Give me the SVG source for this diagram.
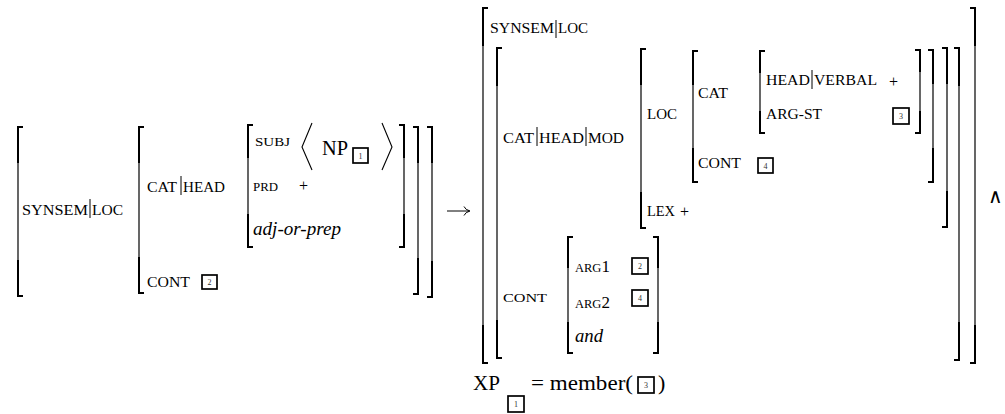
<svg xmlns="http://www.w3.org/2000/svg" width="1005" height="414" viewBox="0 0 1005 414">
<style>
text{font-family:"Liberation Serif","Times New Roman","DejaVu Serif",serif;fill:#000}
.sc{font-size:14px}
.ss{font-size:12.5px}
.it{font-style:italic;font-size:19px}
.tg{font-size:8px;fill:#333;text-anchor:middle}
.thin{stroke:#000;stroke-width:1.2;fill:none}
.thick{stroke:#000;stroke-width:2;fill:none}
.bar{stroke:#000;stroke-width:1;fill:none}
.box{stroke:#000;stroke-width:1.7;fill:#fff}
.ang{stroke:#000;stroke-width:1.1;fill:none}
</style>
<rect width="1005" height="414" fill="#fff"/>

<g id="brackets">
<!-- left AVM -->
<path class="thin" d="M18 127V296"/><path class="thick" d="M23 127H18V163M18 260V296H23"/>
<path class="thin" d="M139 127V293"/><path class="thick" d="M144 127H139V163M139 257V293H144"/>
<path class="thin" d="M248 125V247"/><path class="thick" d="M253 125H248V158M248 214V247H253"/>
<path class="thin" d="M404 125V247"/><path class="thick" d="M399 125H404V158M404 214V247H399"/>
<path class="thin" d="M418 127V294"/><path class="thick" d="M413 127H418V163M418 258V294H413"/>
<path class="thin" d="M432 127V297"/><path class="thick" d="M427 127H432V163M432 261V297H427"/>
<!-- right AVM -->
<path class="thin" d="M483 8V363"/><path class="thick" d="M488 8H483V46M483 325V363H488"/>
<path class="thin" d="M497 48V358"/><path class="thick" d="M502 48H497V86M497 320V358H502"/>
<path class="thin" d="M641 49V228"/><path class="thick" d="M646 49H641V85M641 192V228H646"/>
<path class="thin" d="M693 51V182"/><path class="thick" d="M698 51H693V85M693 148V182H698"/>
<path class="thin" d="M760 51V133"/><path class="thick" d="M765 51H760V73M760 111V133H765"/>
<path class="thin" d="M920 50V133"/><path class="thick" d="M915 50H920V72M920 111V133H915"/>
<path class="thin" d="M933 50V182"/><path class="thick" d="M928 50H933V84M933 148V182H928"/>
<path class="thin" d="M947 48V227"/><path class="thick" d="M942 48H947V84M947 191V227H942"/>
<path class="thin" d="M959 48V360"/><path class="thick" d="M954 48H959V86M959 322V360H954"/>
<path class="thin" d="M975 8V363"/><path class="thick" d="M970 8H975V46M975 325V363H970"/>
<path class="thin" d="M568 237V353"/><path class="thick" d="M573 237H568V268M568 322V353H573"/>
<path class="thin" d="M658 237V353"/><path class="thick" d="M653 237H658V268M658 322V353H653"/>
</g>

<g id="left-avm">
<text class="sc" x="22" y="215" textLength="66" lengthAdjust="spacingAndGlyphs">SYNSEM</text>
<path class="bar" d="M90 199V218"/>
<text class="sc" x="92" y="215" textLength="31" lengthAdjust="spacingAndGlyphs">LOC</text>

<text class="sc" x="147" y="192" textLength="30" lengthAdjust="spacingAndGlyphs">CAT</text>
<path class="bar" d="M181 176V195"/>
<text class="sc" x="183" y="192" textLength="42" lengthAdjust="spacingAndGlyphs">HEAD</text>

<text class="sc" x="147" y="287" textLength="43" lengthAdjust="spacingAndGlyphs">CONT</text>
<rect class="box" x="202" y="275" width="15" height="14"/><text class="tg" x="209.5" y="285">2</text>

<text class="ss" x="255" y="146" textLength="35" lengthAdjust="spacingAndGlyphs">SUBJ</text>
<polyline class="ang" points="312,123 302,147 312,170"/>
<text x="322" y="155" font-size="21" textLength="26" lengthAdjust="spacingAndGlyphs">NP</text>
<rect class="box" x="353" y="148" width="15" height="15"/><text class="tg" x="360.5" y="158.5">1</text>
<polyline class="ang" points="382,123 392,147 382,170"/>

<text class="ss" x="253" y="191" textLength="25" lengthAdjust="spacingAndGlyphs">PRD</text>
<text x="299" y="191" font-size="16">+</text>
<text class="it" x="253" y="235" textLength="88" lengthAdjust="spacingAndGlyphs">adj-or-prep</text>
</g>

<g id="arrow">
<path d="M447 211H469M464 206.5Q465.5 210 470 211Q465.5 212 464 215.5" fill="none" stroke="#000" stroke-width="1"/>
</g>

<g id="right-avm">
<text class="sc" x="490" y="33" textLength="64" lengthAdjust="spacingAndGlyphs">SYNSEM</text>
<path class="bar" d="M556 20V38"/>
<text class="sc" x="558" y="33" textLength="30" lengthAdjust="spacingAndGlyphs">LOC</text>

<text class="sc" x="503" y="143" textLength="31" lengthAdjust="spacingAndGlyphs">CAT</text>
<path class="bar" d="M537 127V146"/>
<text class="sc" x="539" y="143" textLength="45" lengthAdjust="spacingAndGlyphs">HEAD</text>
<path class="bar" d="M586 127V146"/>
<text class="sc" x="588" y="143" textLength="36" lengthAdjust="spacingAndGlyphs">MOD</text>

<text class="sc" x="647" y="119" textLength="30" lengthAdjust="spacingAndGlyphs">LOC</text>
<text class="sc" x="647" y="216" textLength="28" lengthAdjust="spacingAndGlyphs">LEX</text>
<text x="680" y="217" font-size="16">+</text>

<text class="sc" x="698" y="98" textLength="30" lengthAdjust="spacingAndGlyphs">CAT</text>
<text class="sc" x="698" y="168" textLength="43" lengthAdjust="spacingAndGlyphs">CONT</text>
<rect class="box" x="758" y="158" width="15" height="15"/><text class="tg" x="765.5" y="168.5">4</text>

<text class="sc" x="766" y="85" textLength="44" lengthAdjust="spacingAndGlyphs">HEAD</text>
<path class="bar" d="M812 70V89"/>
<text class="sc" x="814" y="85" textLength="63" lengthAdjust="spacingAndGlyphs">VERBAL</text>
<text x="889" y="87" font-size="16">+</text>
<text class="sc" x="766" y="119" textLength="56" lengthAdjust="spacingAndGlyphs">ARG-ST</text>
<rect class="box" x="893" y="108" width="16" height="16"/><text class="tg" x="901" y="119">3</text>

<text class="ss" x="503" y="302" textLength="44" lengthAdjust="spacingAndGlyphs">CONT</text>
<text class="ss" x="575" y="272">ARG<tspan font-size="17">1</tspan></text>
<rect class="box" x="632" y="258" width="16" height="16"/><text class="tg" x="640" y="269">2</text>
<text class="ss" x="575" y="308">ARG<tspan font-size="17">2</tspan></text>
<rect class="box" x="632" y="290" width="16" height="16"/><text class="tg" x="640" y="301">4</text>
<text class="it" x="575" y="342" textLength="28" lengthAdjust="spacingAndGlyphs">and</text>
</g>

<g id="conj">
<text x="988" y="203" font-size="20">∧</text>
</g>

<g id="constraint">
<text x="473" y="390" font-size="22" textLength="27" lengthAdjust="spacingAndGlyphs">XP</text>
<rect class="box" x="508" y="396" width="16" height="16"/><text class="tg" x="516" y="407">1</text>
<text x="531" y="390" font-size="22" textLength="102" lengthAdjust="spacingAndGlyphs">= member(</text>
<rect class="box" x="638" y="377" width="16" height="16"/><text class="tg" x="646" y="388">3</text>
<text x="658" y="390" font-size="22">)</text>
</g>
</svg>
